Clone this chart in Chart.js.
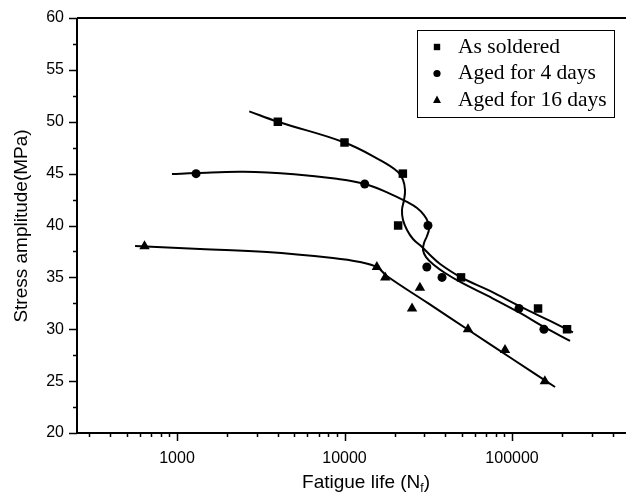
<!DOCTYPE html>
<html>
<head>
<meta charset="utf-8">
<script src="https://cdn.jsdelivr.net/npm/chart.js@4.4.1/dist/chart.umd.min.js"></script>
<style>
  html, body { margin: 0; padding: 0; background: #fff; }
  canvas { display: block; }
</style>
</head>
<body>
<canvas id="grafico-fadiga" width="626" height="495"></canvas>
<script>
// Pontos medidos - vida em fadiga (Nf) e amplitude de tensão (MPa)
var soldadoN = [4000, 10000, 22300, 20900, 49600, 143000, 213000];
var soldadoS = [50, 48, 45, 40, 35, 32, 30];

var quatroDiasN = [1300, 13200, 31500, 31000, 38200, 110000, 155000];
var quatroDiasS = [45, 44, 40, 36, 35, 32, 30];

var dezesseisDiasN = [640, 15600, 17500, 25300, 28200, 54600, 90800, 157000];
var dezesseisDiasS = [38, 36, 35, 32, 34, 30, 28, 25];

// Curvas ajustadas
var curvaSoldadoN = [2700, 4000, 10000, 16300, 20860, 22350, 22970, 22660, 22040, 22350, 23610, 25640, 28620, 32400, 37200, 49600, 73900, 111700, 168700, 231000];
var curvaSoldadoS = [51.0, 50.0, 48.0, 46.3, 45.16, 44.39, 43.42, 42.46, 41.49, 40.53, 39.57, 38.7, 38.02, 37.16, 36.29, 35.0, 33.7, 32.2, 30.8, 29.7];

var curvaQuatroN = [933, 1300, 2500, 5000, 9000, 13250, 17940, 23610, 27100, 29830, 31500, 31950, 31080, 29830, 29420, 30670, 34220, 39810, 50300, 73900, 111700, 155000, 222000];
var curvaQuatroS = [44.96, 45.06, 45.18, 44.95, 44.5, 44.0, 43.2, 42.27, 41.69, 41.01, 40.34, 39.66, 38.99, 38.31, 37.64, 36.96, 36.19, 35.42, 34.46, 33.11, 31.57, 30.22, 28.87];

var curvaDezesseisN = [562, 1372, 3450, 8530, 12370, 15630, 17900, 31500, 56100, 100000, 180600];
var curvaDezesseisS = [38.02, 37.73, 37.45, 36.87, 36.48, 36.0, 35.13, 32.51, 29.83, 27.16, 24.43];

// Rótulos da legenda
var nomesSeries = ['As soldered', 'Aged for 4 days', 'Aged for 16 days'];

// Marcas dos eixos
var ticksY = [20, 25, 30, 35, 40, 45, 50, 55, 60];
var ticksYMenores = [22.5, 27.5, 32.5, 37.5, 42.5, 47.5, 52.5, 57.5];
var rotulosX = [1000, 10000, 100000];
var ticksXMenores = [300, 400, 500, 600, 700, 800, 900, 2000, 3000, 4000, 5000, 6000, 7000, 8000, 9000,
                     20000, 30000, 40000, 50000, 60000, 70000, 80000, 90000, 200000, 300000, 400000];

// Junta dois arrays em pontos {x, y}
function pontos(xs, ys) {
    return xs.map(function(v, i) { return { x: v, y: ys[i] }; });
}

var fonteEixo = '"Liberation Sans", Arial, sans-serif';
var fonteLegenda = '"Liberation Serif", "Times New Roman", serif';

// Desenha um marcador simples
function marcador(ctx, estilo, x, y, r) {
    ctx.beginPath();
    if (estilo === 'rect') {
        ctx.rect(x - r, y - r, 2 * r, 2 * r);
    } else if (estilo === 'circle') {
        ctx.arc(x, y, r, 0, Math.PI * 2);
    } else {
        ctx.moveTo(x, y - r * 1.1);
        ctx.lineTo(x + r, y + r * 0.75);
        ctx.lineTo(x - r, y + r * 0.75);
        ctx.closePath();
    }
    ctx.fill();
}

// Plugin para eixos, marcas, títulos e legenda
var molduraPlugin = {
    id: 'moldura',
    afterDraw: function(chart) {
        var ctx = chart.ctx;
        var a = chart.chartArea;
        var sx = chart.scales.x;
        var sy = chart.scales.y;
        ctx.save();
        ctx.strokeStyle = '#000';
        ctx.lineWidth = 2;
        ctx.beginPath();
        ctx.moveTo(a.left, a.top);
        ctx.lineTo(a.left, a.bottom);
        ctx.lineTo(a.right, a.bottom);
        ctx.moveTo(a.left, a.top);
        ctx.lineTo(a.right, a.top);
        ctx.stroke();

        // Marcas do eixo Y
        ctx.lineWidth = 1.5;
        ctx.beginPath();
        ticksY.forEach(function(v) {
            var p = Math.round(sy.getPixelForValue(v)) + 0.5;
            ctx.moveTo(a.left, p); ctx.lineTo(a.left - 8, p);
        });
        ticksYMenores.forEach(function(v) {
            var p = Math.round(sy.getPixelForValue(v)) + 0.5;
            ctx.moveTo(a.left, p); ctx.lineTo(a.left - 4, p);
        });
        // Marcas do eixo X
        rotulosX.forEach(function(v) {
            var p = Math.round(sx.getPixelForValue(v)) + 0.5;
            ctx.moveTo(p, a.bottom); ctx.lineTo(p, a.bottom + 8);
        });
        ticksXMenores.forEach(function(v) {
            var p = Math.round(sx.getPixelForValue(v)) + 0.5;
            ctx.moveTo(p, a.bottom); ctx.lineTo(p, a.bottom + 4);
        });
        ctx.stroke();

        // Título do eixo X com subscrito
        ctx.fillStyle = '#000';
        ctx.textBaseline = 'alphabetic';
        ctx.textAlign = 'left';
        ctx.font = '19px ' + fonteEixo;
        var t1 = 'Fatigue life (N', t2 = ')';
        var w1 = ctx.measureText(t1).width;
        var w2 = ctx.measureText(t2).width;
        ctx.font = '12px ' + fonteEixo;
        var ws = ctx.measureText('f').width;
        var x0 = 366 - (w1 + ws + w2) / 2;
        ctx.font = '19px ' + fonteEixo;
        ctx.fillText(t1, x0, 488);
        ctx.fillText(t2, x0 + w1 + ws, 488);
        ctx.font = '12px ' + fonteEixo;
        ctx.fillText('f', x0 + w1, 492);

        // Título do eixo Y
        ctx.save();
        ctx.translate(22, 226);
        ctx.rotate(-Math.PI / 2);
        ctx.textAlign = 'center';
        ctx.textBaseline = 'middle';
        ctx.font = '19px ' + fonteEixo;
        ctx.fillText('Stress amplitude(MPa)', 0, 0);
        ctx.restore();

        // Legenda com borda
        ctx.lineWidth = 1;
        ctx.fillStyle = '#fff';
        ctx.fillRect(417, 30, 197, 87);
        ctx.strokeRect(417.5, 30.5, 197, 87);
        ctx.fillStyle = '#000';
        var estilos = ['rect', 'circle', 'triangle'];
        var tamanhos = [3.2, 3.6, 4];
        ctx.font = '21.5px ' + fonteLegenda;
        ctx.textBaseline = 'middle';
        ctx.textAlign = 'left';
        nomesSeries.forEach(function(nome, i) {
            var yy = 47 + i * 26.5;
            marcador(ctx, estilos[i], 437, yy, tamanhos[i]);
            ctx.fillText(nome, 458, yy);
        });
        ctx.restore();
    }
};

// Estilo comum das curvas ajustadas
function curva(dados) {
    return {
        data: dados,
        showLine: true,
        borderColor: '#000',
        borderWidth: 2,
        pointRadius: 0,
        tension: 0.4,
        fill: false
    };
}

// Estilo comum dos pontos medidos
function serie(nome, dados, estilo, raio) {
    return {
        label: nome,
        data: dados,
        showLine: false,
        pointStyle: estilo,
        pointRadius: raio,
        backgroundColor: '#000',
        borderColor: '#000',
        borderWidth: 0
    };
}

var ctx = document.getElementById('grafico-fadiga').getContext('2d');

var grafico = new Chart(ctx, {
    type: 'scatter',
    data: {
        datasets: [
            curva(pontos(curvaSoldadoN, curvaSoldadoS)),
            curva(pontos(curvaQuatroN, curvaQuatroS)),
            curva(pontos(curvaDezesseisN, curvaDezesseisS)),
            serie(nomesSeries[0], pontos(soldadoN, soldadoS), 'rect', 6),
            serie(nomesSeries[1], pontos(quatroDiasN, quatroDiasS), 'circle', 4.5),
            serie(nomesSeries[2], pontos(dezesseisDiasN, dezesseisDiasS), 'triangle', 6)
        ]
    },
    options: {
        responsive: false,
        animation: false,
        layout: { autoPadding: false, padding: { top: 18, right: 0, left: 0, bottom: 0 } },
        plugins: {
            legend: { display: false },
            tooltip: { enabled: false }
        },
        scales: {
            x: {
                type: 'logarithmic',
                min: 253,
                max: 479000,
                grid: { display: false, drawTicks: false },
                border: { display: false },
                afterBuildTicks: function(scale) {
                    scale.ticks = rotulosX.map(function(v) { return { value: v }; });
                },
                afterFit: function(scale) {
                    scale.height = 62;
                    scale.paddingLeft = 0;
                    scale.paddingRight = 0;
                },
                ticks: {
                    autoSkip: false,
                    maxRotation: 0,
                    padding: 16,
                    color: '#000',
                    font: { family: fonteEixo, size: 16 },
                    callback: function(v) { return String(v); }
                }
            },
            y: {
                min: 20,
                max: 60,
                grid: { display: false, drawTicks: false },
                border: { display: false },
                afterBuildTicks: function(scale) {
                    scale.ticks = ticksY.map(function(v) { return { value: v }; });
                },
                afterFit: function(scale) {
                    scale.width = 77;
                    scale.paddingTop = 0;
                    scale.paddingBottom = 0;
                },
                ticks: {
                    padding: 13,
                    color: '#000',
                    font: { family: fonteEixo, size: 16 }
                }
            }
        }
    },
    plugins: [molduraPlugin]
});
</script>
</body>
</html>
